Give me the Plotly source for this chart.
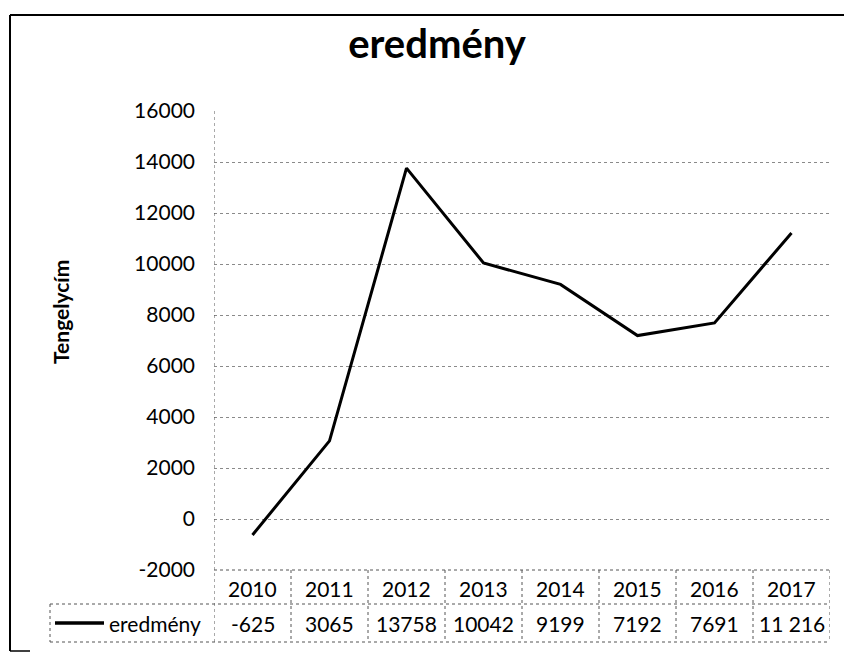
import plotly.graph_objects as go

years = ["2010", "2011", "2012", "2013", "2014", "2015", "2016", "2017"]
values = [-625, 3065, 13758, 10042, 9199, 7192, 7691, 11216]
value_labels = ["-625", "3065", "13758", "10042", "9199", "7192", "7691", "11 216"]
y_ticks = [-2000, 0, 2000, 4000, 6000, 8000, 10000, 12000, 14000, 16000]
series_name = "eredmény"
chart_title = "eredmény"
y_title = "Tengelycím"

W, H = 844, 653
ML, MR, MT, MB = 214, 14, 111, 83
PW = W - ML - MR
PH = H - MT - MB

def px_x(p):
    return (p - ML) / PW

def px_y(p):
    return (H - MB - p) / PH

FONT = "Lato, Calibri, Arial, sans-serif"
grid_c = "#8a8a8a"
border_c = "#555555"

fig = go.Figure()
fig.add_trace(go.Scatter(
    x=list(range(len(years))), y=values, mode="lines",
    line=dict(color="black", width=3), name=series_name, showlegend=False,
    hoverinfo="x+y",
))

shapes = []
row1_top = 0.0
row1_bot = px_y(604)
row2_bot = px_y(642)
legend_left = px_x(50)

shapes.append(dict(type="line", xref="paper", yref="paper", x0=0, x1=1, y0=row1_top, y1=row1_top,
                   line=dict(color=border_c, width=1, dash="dot")))
shapes.append(dict(type="line", xref="paper", yref="paper", x0=legend_left, x1=1, y0=row1_bot, y1=row1_bot,
                   line=dict(color=border_c, width=1, dash="dot")))
shapes.append(dict(type="line", xref="paper", yref="paper", x0=legend_left, x1=1, y0=row2_bot, y1=row2_bot,
                   line=dict(color=border_c, width=1, dash="dot")))
for i in range(len(years) + 1):
    xv = i - 0.5
    top = 1.0 if i == 0 else row1_top
    shapes.append(dict(type="line", xref="x", yref="paper", x0=xv, x1=xv, y0=top, y1=row2_bot,
                       line=dict(color=border_c, width=1, dash="dot")))
shapes.append(dict(type="line", xref="paper", yref="paper", x0=legend_left, x1=legend_left,
                   y0=row1_bot, y1=row2_bot, line=dict(color=border_c, width=1, dash="dot")))
row2_mid = px_y(623)
shapes.append(dict(type="line", xref="paper", yref="paper", x0=px_x(55), x1=px_x(104),
                   y0=row2_mid, y1=row2_mid, line=dict(color="black", width=3.5)))
# outer chart border
shapes.append(dict(type="line", xref="paper", yref="paper", x0=px_x(10), x1=px_x(10),
                   y0=px_y(15), y1=px_y(651), line=dict(color="black", width=2)))
shapes.append(dict(type="line", xref="paper", yref="paper", x0=px_x(10), x1=px_x(844),
                   y0=px_y(15), y1=px_y(15), line=dict(color="black", width=2)))
shapes.append(dict(type="line", xref="paper", yref="paper", x0=px_x(10), x1=px_x(30),
                   y0=px_y(651), y1=px_y(651), line=dict(color="black", width=1.5)))

annotations = []
row1_mid = px_y(588)
for i, yv in enumerate(years):
    annotations.append(dict(x=i, y=row1_mid, xref="x", yref="paper", text=yv, showarrow=False,
                            font=dict(family=FONT, size=21, color="black"),
                            xanchor="center", yanchor="middle"))
for i, lab in enumerate(value_labels):
    annotations.append(dict(x=i, y=row2_mid, xref="x", yref="paper", text=lab, showarrow=False,
                            font=dict(family=FONT, size=21, color="black"),
                            xanchor="center", yanchor="middle"))
annotations.append(dict(x=px_x(107), y=row2_mid, xref="paper", yref="paper", text=series_name,
                        showarrow=False, font=dict(family=FONT, size=21, color="black"),
                        xanchor="left", yanchor="middle"))
annotations.append(dict(x=px_x(60), y=px_y(312), xref="paper", yref="paper", text="<b>" + y_title + "</b>",
                        showarrow=False, textangle=-90, font=dict(family=FONT, size=21, color="black"),
                        xanchor="center", yanchor="middle"))

fig.update_layout(
    width=W, height=H,
    margin=dict(l=ML, r=MR, t=MT, b=MB),
    paper_bgcolor="white", plot_bgcolor="white",
    title=dict(text="<b>" + chart_title + "</b>", x=437 / W, xanchor="center",
               y=1 - 44 / H, yanchor="middle", font=dict(family=FONT, size=40, color="black")),
    xaxis=dict(range=[-0.5, len(years) - 0.5], showticklabels=False, showgrid=False,
               zeroline=False, showline=False, ticks=""),
    yaxis=dict(range=[-2000, 16000], tickvals=y_ticks, ticktext=[str(t) for t in y_ticks],
               showgrid=True, gridcolor=grid_c, griddash="dot", gridwidth=1,
               zeroline=False, showline=False, ticks="", ticklabelstandoff=18,
               tickfont=dict(family=FONT, size=21, color="black")),
    shapes=shapes,
    annotations=annotations,
    showlegend=False,
)

fig.write_html("out.html", config={"displayModeBar": False},
               post_script="document.body.style.margin='0';document.body.style.overflow='hidden';")
